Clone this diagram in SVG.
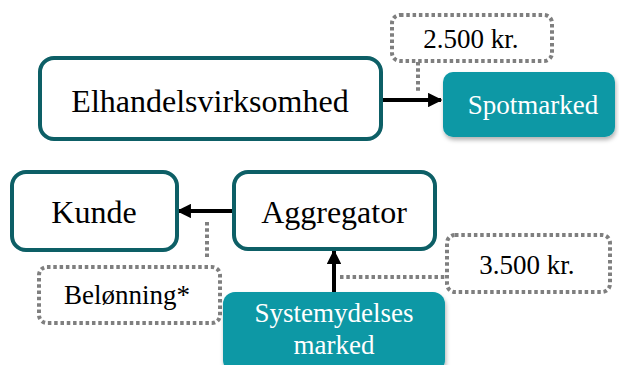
<svg xmlns="http://www.w3.org/2000/svg" width="619" height="365" viewBox="0 0 619 365">
<defs>
<style>
.node{fill:#fff;stroke:#0d5f66;stroke-width:4}
.market{fill:#0898a5}
.note{fill:#fff;stroke:#7f7f7f;stroke-width:4;stroke-dasharray:3.5 2.8}
.dot{fill:none;stroke:#7f7f7f;stroke-width:4;stroke-dasharray:3.5 2.8}
.conn{stroke:#000;stroke-width:4;fill:none;marker-end:url(#ah)}
text{text-anchor:middle;fill:#000}
.w{fill:#fff}
</style>
<marker id="ah" viewBox="0 0 10 10" refX="9" refY="5" markerWidth="3.6" markerHeight="3.6" orient="auto" markerUnits="strokeWidth">
<path d="M0,0 L10,5 L0,10 Z" fill="#000"/>
</marker>
<filter id="sh" x="-10%" y="-10%" width="130%" height="140%">
<feDropShadow dx="1" dy="3" stdDeviation="2" flood-color="#000" flood-opacity="0.3"/>
</filter>
</defs>
<g id="connectors">
<path class="dot" d="M418,62 V93"/>
<path class="dot" d="M207,222 V258"/>
<path class="dot" d="M340,277 H446"/>
<path class="conn" d="M381,100 H441"/>
<path class="conn" d="M233,211 H178"/>
<path class="conn" d="M334,292 V251"/>
</g>
<g font-family="'Liberation Serif', 'Times New Roman', 'DejaVu Serif', serif">
<g id="elhandel">
<rect class="node" x="40" y="58" width="341" height="81" rx="14"/>
<text x="210" y="112" font-size="32" font-family="Liberation Serif">Elhandelsvirksomhed</text>
</g>
<g id="note2500">
<rect class="note" x="392" y="15" width="160" height="46" rx="8"/>
<text x="471" y="48" font-size="27" font-family="Liberation Serif">2.500 kr.</text>
</g>
<g id="spotmarked">
<rect class="market" x="443" y="72" width="172" height="65" rx="10" filter="url(#sh)"/>
<text class="w" x="533" y="114" font-size="27" font-family="Liberation Serif">Spotmarked</text>
</g>
<g id="kunde">
<rect class="node" x="12" y="172" width="165" height="78" rx="14"/>
<text x="94" y="223" font-size="32" font-family="Liberation Serif">Kunde</text>
</g>
<g id="aggregator">
<rect class="node" x="234" y="172" width="201" height="77" rx="14"/>
<text x="334" y="223" font-size="32" font-family="Liberation Serif">Aggregator</text>
</g>
<g id="belonning">
<rect class="note" x="39" y="267" width="181" height="56" rx="8"/>
<text x="127" y="304" font-size="27" font-family="Liberation Serif">Belønning*</text>
</g>
<g id="note3500">
<rect class="note" x="447" y="235" width="163" height="57" rx="8"/>
<text x="527" y="274" font-size="27" font-family="Liberation Serif">3.500 kr.</text>
</g>
<g id="systemydelser">
<rect class="market" x="223" y="292" width="222" height="80" rx="12" filter="url(#sh)"/>
<text class="w" x="334" y="322" font-size="27" font-family="Liberation Serif">Systemydelses</text>
<text class="w" x="334" y="354" font-size="27" font-family="Liberation Serif">marked</text>
</g>
</g>
</svg>
